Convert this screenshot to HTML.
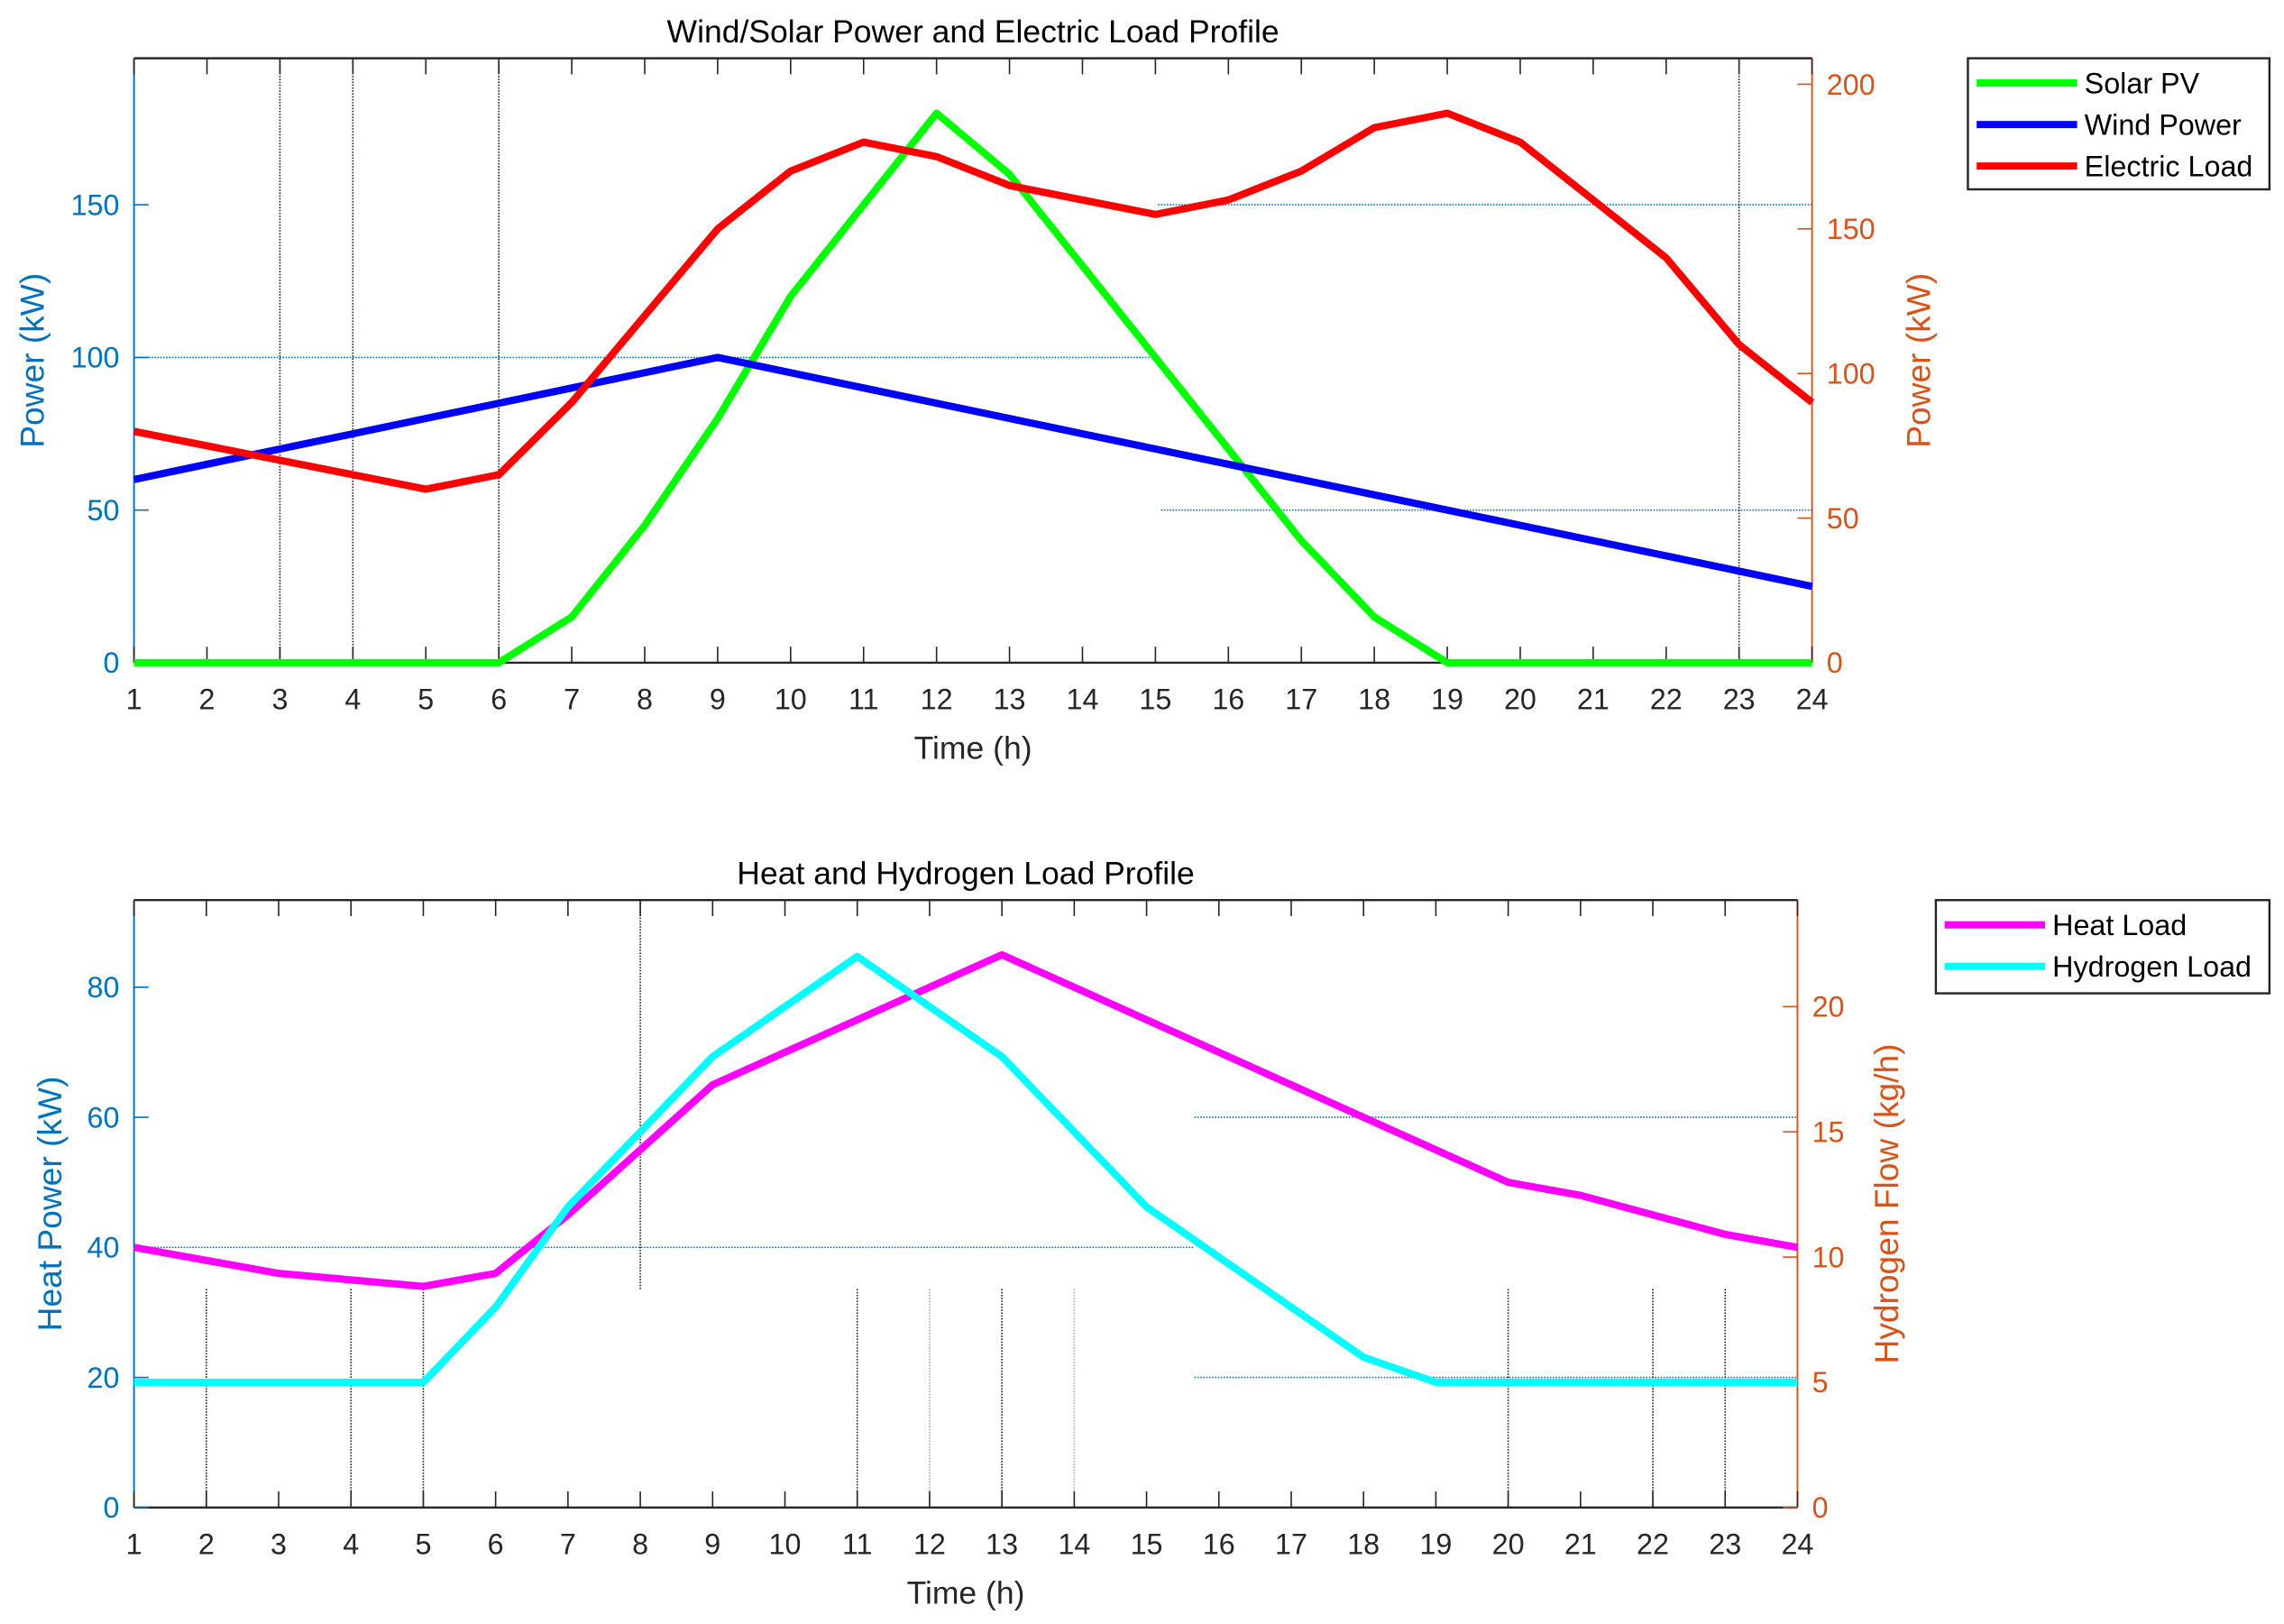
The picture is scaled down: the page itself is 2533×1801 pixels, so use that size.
<!DOCTYPE html>
<html><head><meta charset="utf-8"><style>html,body{margin:0;padding:0;background:#fff}svg{display:block}text{font-family:"Liberation Sans",Arial,sans-serif}</style></head>
<body>
<svg id="fig" width="2533" height="1801" viewBox="0 0 1568 1115" preserveAspectRatio="none" xmlns="http://www.w3.org/2000/svg"></svg>
<script>
const hours=[1,2,3,4,5,6,7,8,9,10,11,12,13,14,15,16,17,18,19,20,21,22,23,24];
const solarPV=[0,0,0,0,0,0,15,45,80,120,150,180,160,130,100,70,40,15,0,0,0,0,0,0];
const windPower=[60,65,70,75,80,85,90,95,100,95,90,85,80,75,70,65,60,55,50,45,40,35,30,25];
const electricLoad=[80,75,70,65,60,65,90,120,150,170,180,175,165,160,155,160,170,185,190,180,160,140,110,90];
const heatLoad=[40,38,36,35,34,36,45,55,65,70,75,80,85,80,75,70,65,60,55,50,48,45,42,40];
const hydrogenLoad=[5,5,5,5,5,8,12,15,18,20,22,20,18,15,12,10,8,6,5,5,5,5,5,5];
const topLeftTicks=[0,50,100,150];
const topRightTicks=[0,50,100,150,200];
const botLeftTicks=[0,20,40,60,80];
const botRightTicks=[0,5,10,15,20];

const svg=document.getElementById('fig');
const NS='http://www.w3.org/2000/svg';
function el(tag,attrs,parent,txt){const e=document.createElementNS(NS,tag);for(const k in attrs)e.setAttribute(k,attrs[k]);if(txt!==undefined)e.textContent=txt;(parent||svg).appendChild(e);return e;}
const BLUE='#0072BD',ORANGE='#D95319';

function panel(cfg){
  const g=el('g',{});
  
  
  const {x0,x1,y0,y1}=cfg;
  const sx=h=>x0+(h-1)*(x1-x0)/23;
  const syL=v=>y1-v*(y1-y0)/cfg.lmax;
  const syR=v=>y1-v*(y1-y0)/cfg.rmax;
  cfg.hgrid.forEach(gl=>{const l=el('line',{x1:gl[1],x2:gl[2],y1:syL(gl[0]),y2:syL(gl[0]),stroke:BLUE,'stroke-width':1,'stroke-dasharray':'1,1'},g);
    });
  cfg.vgrid.forEach(vg=>{const l=el('line',{x1:sx(vg[0]),x2:sx(vg[0]),y1:vg[1],y2:vg[2],stroke:vg[3]||'#222','stroke-width':1,'stroke-dasharray':'1,1'},g);
    });
  const t=el('line',{x1:x0,x2:x1,y1:y0,y2:y0,stroke:'#262626','stroke-width':1.5},g);
  const b=el('line',{x1:x0,x2:x1,y1:y1,y2:y1,stroke:'#262626','stroke-width':1.5},g);
  const la=el('line',{x1:x0,x2:x0,y1:y0,y2:y1,stroke:BLUE,'stroke-width':1.2},g);
  const ra=el('line',{x1:x1,x2:x1,y1:y0,y2:y1,stroke:ORANGE,'stroke-width':1.2},g);
  hours.forEach(h=>{
    el('line',{x1:sx(h),x2:sx(h),y1:y1,y2:y1-11,stroke:'#262626','stroke-width':1},g);
    el('line',{x1:sx(h),x2:sx(h),y1:y0,y2:y0+11,stroke:'#262626','stroke-width':1},g);
    const tl=el('text',{x:sx(h),y:y1+32,'text-anchor':'middle','font-size':20,fill:'#262626'},g,String(h));
    
  });
  cfg.lticks.forEach(v=>{el('line',{x1:x0,x2:x0+10,y1:syL(v),y2:syL(v),stroke:BLUE},g);
    const tl=el('text',{x:x0-10,y:syL(v)+7,'text-anchor':'end','font-size':20,fill:BLUE},g,String(v));
    });
  cfg.rticks.forEach(v=>{el('line',{x1:x1-10,x2:x1,y1:syR(v),y2:syR(v),stroke:ORANGE},g);
    const tl=el('text',{x:x1+10,y:syR(v)+7,'text-anchor':'start','font-size':20,fill:ORANGE},g,String(v));
    });
  cfg.series.forEach(s=>{
    const sy=s.axis==='L'?syL:syR;
    const p=el('polyline',{points:s.data.map((v,i)=>sx(hours[i])+','+sy(v)).join(' '),fill:'none',stroke:s.color,'stroke-width':5,'stroke-linejoin':'round'},g);
    
  });
  const ti=el('text',{x:(x0+x1)/2,y:y0-11,'text-anchor':'middle','font-size':22,fill:'#000'},g,cfg.title);
  
  const xl=el('text',{x:(x0+x1)/2,y:y1+66,'text-anchor':'middle','font-size':22,fill:'#262626'},g,'Time (h)');
  
  const cy=(y0+y1)/2;
  const yl=el('text',{x:0,y:0,'text-anchor':'middle','font-size':23,fill:BLUE,transform:`translate(${cfg.lLabX},${cy}) rotate(-90)`},g,cfg.lLabel);
  
  const yr=el('text',{x:0,y:0,'text-anchor':'middle','font-size':23,fill:ORANGE,transform:`translate(${cfg.rLabX},${cy}) rotate(-90)`},g,cfg.rLabel);
  
  const L=cfg.legend;
  const lg=el('g',{},g);
  el('rect',{x:L.x,y:L.y,width:L.w,height:L.h,fill:'#fff',stroke:'#262626','stroke-width':1.5},lg);
  cfg.series.forEach((s,i)=>{const yy=L.y+17+i*28.5;
    el('line',{x1:L.x+6,x2:L.x+75,y1:yy,y2:yy,stroke:s.color,'stroke-width':5},lg);
    const tx=el('text',{x:L.x+80,y:yy+7,'font-size':20,fill:'#000'},lg,s.label);
    });
}

panel({name:'top-chart',x0:92,x1:1244,y0:40,y1:455,lmax:198,rmax:209,
  lticks:topLeftTicks,rticks:topRightTicks,title:'Wind/Solar Power and Electric Load Profile',
  lLabel:'Power (kW)',rLabel:'Power (kW)',lLabX:30,rLabX:1325,
  hgrid:[[100,92,790],[150,795,1244],[50,797,1244]],
  vgrid:[[3,40,455],[4,40,455],[6,40,455],[23,40,455]],
  series:[{name:'solar-pv-line',label:'Solar PV',data:solarPV,color:'#00FF00',axis:'L'},
          {name:'wind-power-line',label:'Wind Power',data:windPower,color:'#0000FF',axis:'L'},
          {name:'electric-load-line',label:'Electric Load',data:electricLoad,color:'#FF0000',axis:'R'}],
  legend:{x:1351,y:40,w:207,h:90}});

panel({name:'bottom-chart',x0:92,x1:1234,y0:618,y1:1035,lmax:93.4,rmax:24.25,
  lticks:botLeftTicks,rticks:botRightTicks,title:'Heat and Hydrogen Load Profile',
  lLabel:'Heat Power (kW)',rLabel:'Hydrogen Flow (kg/h)',lLabX:42,rLabX:1303,
  hgrid:[[40,92,820],[60,820,1234],[20,820,1234]],
  vgrid:[[8,618,885],[2,885,1035],[4,885,1035],[5,885,1035],[11,885,1035],[12,885,1035,'#aaa'],[13,885,1035],[14,885,1035,'#aaa'],[20,885,1035],[22,885,1035],[23,885,1035]],
  series:[{name:'heat-load-line',label:'Heat Load',data:heatLoad,color:'#FF00FF',axis:'L'},
          {name:'hydrogen-load-line',label:'Hydrogen Load',data:hydrogenLoad,color:'#00FFFF',axis:'R'}],
  legend:{x:1329,y:618,w:229,h:64}});
</script>
</body></html>
